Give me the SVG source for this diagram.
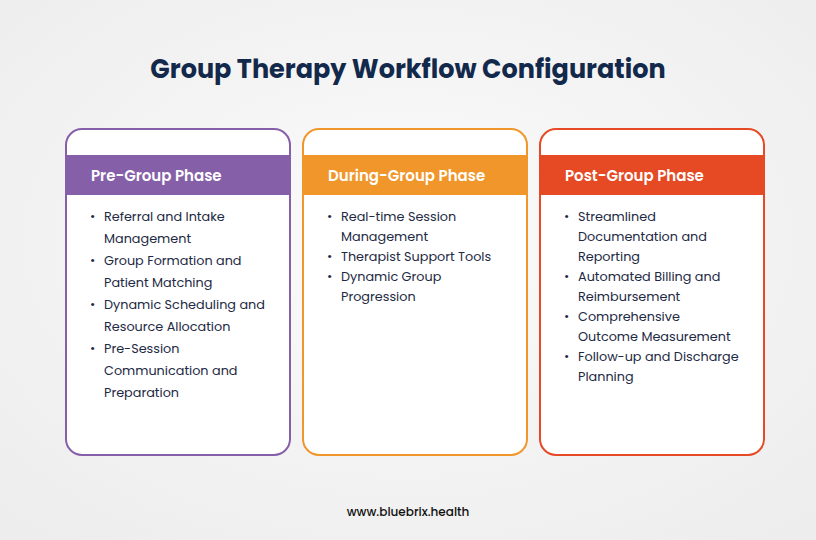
<svg xmlns="http://www.w3.org/2000/svg" width="816" height="540" viewBox="0 0 816 540">
<defs>
<radialGradient id="bg" cx="50%" cy="45%" r="70%"><stop offset="0" stop-color="#fbfbfb"/><stop offset="1" stop-color="#ededed"/></radialGradient>
</defs>
<style>
.card{fill:#fff;stroke-width:2}
.hd{font-family:Poppins,Inter,"Open Sans",sans-serif;font-weight:600;font-size:15px;fill:#fff}
.it{font-family:Poppins,Inter,"Open Sans",sans-serif;font-size:12.8px;fill:#1e2a44}
.t{font-family:Poppins,Inter,"Open Sans",sans-serif;font-weight:700;font-size:25.5px;fill:#13294b}
</style>
<rect width="816" height="540" fill="url(#bg)"/>
<text class="t" x="408" y="78" text-anchor="middle">Group Therapy Workflow Configuration</text>
<g id="pre">
<rect class="card" x="66" y="129" width="224" height="326" rx="16" stroke="#8560A8"/>
<rect x="67" y="155" width="222" height="40" fill="#8560A8"/>
<text class="hd" x="91" y="181">Pre-Group Phase</text>
<g class="it">
<text x="90" y="221">•</text><text x="104" y="221">Referral and Intake</text><text x="104" y="243">Management</text>
<text x="90" y="265">•</text><text x="104" y="265">Group Formation and</text><text x="104" y="287">Patient Matching</text>
<text x="90" y="309">•</text><text x="104" y="309">Dynamic Scheduling and</text><text x="104" y="331">Resource Allocation</text>
<text x="90" y="353">•</text><text x="104" y="353">Pre-Session</text><text x="104" y="375">Communication and</text><text x="104" y="397">Preparation</text>
</g>
</g>
<g id="during">
<rect class="card" x="303" y="129" width="224" height="326" rx="16" stroke="#F0962A"/>
<rect x="304" y="155" width="222" height="40" fill="#F0962A"/>
<text class="hd" x="328" y="181">During-Group Phase</text>
<g class="it">
<text x="327" y="221">•</text><text x="341" y="221">Real-time Session</text><text x="341" y="241">Management</text>
<text x="327" y="261">•</text><text x="341" y="261">Therapist Support Tools</text>
<text x="327" y="281">•</text><text x="341" y="281">Dynamic Group</text><text x="341" y="301">Progression</text>
</g>
</g>
<g id="post">
<rect class="card" x="540" y="129" width="224" height="326" rx="16" stroke="#E64A24"/>
<rect x="541" y="155" width="222" height="40" fill="#E64A24"/>
<text class="hd" x="565" y="181">Post-Group Phase</text>
<g class="it">
<text x="564" y="221">•</text><text x="578" y="221">Streamlined</text><text x="578" y="241">Documentation and</text><text x="578" y="261">Reporting</text>
<text x="564" y="281">•</text><text x="578" y="281">Automated Billing and</text><text x="578" y="301">Reimbursement</text>
<text x="564" y="321">•</text><text x="578" y="321">Comprehensive</text><text x="578" y="341">Outcome Measurement</text>
<text x="564" y="361">•</text><text x="578" y="361">Follow-up and Discharge</text><text x="578" y="381">Planning</text>
</g>
</g>
<g id="connectors"/>
<text x="408" y="516" text-anchor="middle" font-family="Poppins,Inter,sans-serif" font-size="12" font-weight="500" fill="#111">www.bluebrix.health</text>
</svg>
